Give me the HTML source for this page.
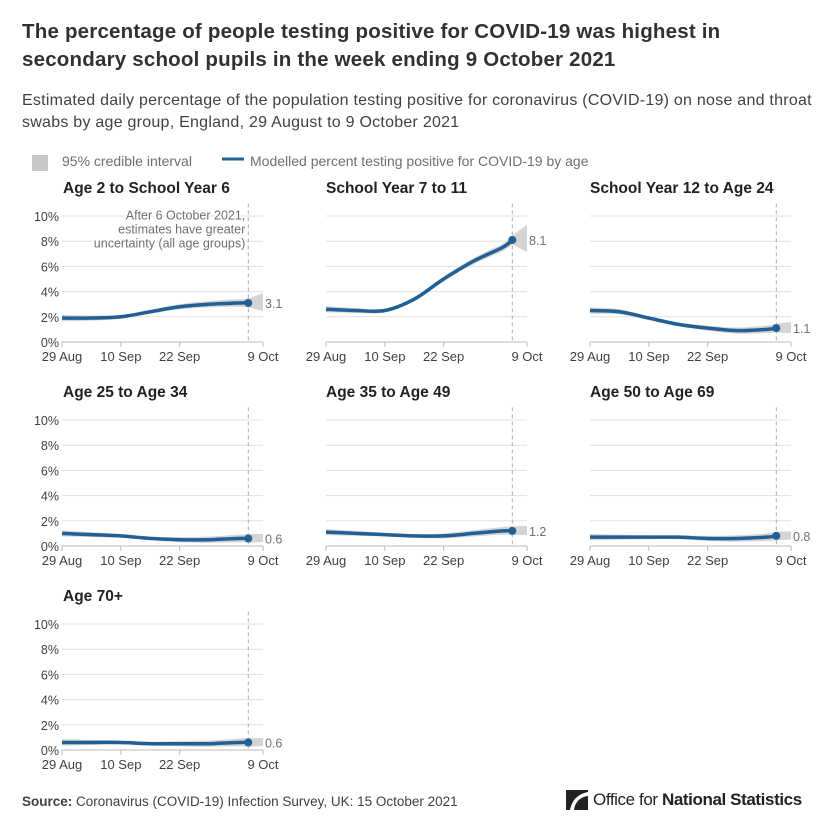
<!DOCTYPE html>
<html><head><meta charset="utf-8"><style>
body{margin:0;background:#fff;width:836px;height:834px;overflow:hidden;font-family:"Liberation Sans",sans-serif;}
#title{position:absolute;left:22px;top:18px;font-size:20.5px;font-weight:bold;color:#323132;line-height:28px;letter-spacing:0.2px}
#sub{position:absolute;left:22px;top:90px;font-size:16px;color:#414042;line-height:22px;letter-spacing:0.25px;white-space:nowrap}
#src{position:absolute;left:22px;top:794px;font-size:13.5px;color:#414042}
#logo{position:absolute;left:566px;top:790px;font-size:17px;color:#222;display:flex;align-items:center;gap:5px;letter-spacing:-0.4px}
svg{position:absolute;left:0;top:0}
</style></head><body>
<div id="title">The percentage of people testing positive for COVID-19 was highest in<br>secondary school pupils in the week ending 9 October 2021</div>
<div id="sub">Estimated daily percentage of the population testing positive for coronavirus (COVID-19) on nose and throat<br>swabs by age group, England, 29 August to 9 October 2021</div>
<div id="src"><b>Source:</b> Coronavirus (COVID-19) Infection Survey, UK: 15 October 2021</div>
<div id="logo"><svg width="22" height="20" style="position:static"><path d="M0 0H22V20H0Z" fill="#222"/><path d="M22 2C12 4 6 10 4 20H8C9 12 14 7 22 6Z" fill="#fff"/></svg><span>Office for <b>National Statistics</b></span></div>
<svg id="chart" width="836" height="834"></svg>
<script>
const days=[0,6,12,18,24,30,36,38];
const titles=["Age 2 to School Year 6","School Year 7 to 11","School Year 12 to Age 24","Age 25 to Age 34","Age 35 to Age 49","Age 50 to Age 69","Age 70+"];
const s1=[1.9,1.9,2.0,2.4,2.8,3.0,3.1,3.1];
const s2=[2.6,2.5,2.5,3.4,5.0,6.4,7.5,8.1];
const s3=[2.5,2.4,1.9,1.4,1.1,0.9,1.0,1.1];
const s4=[1.0,0.9,0.8,0.6,0.5,0.5,0.6,0.6];
const s5=[1.1,1.0,0.9,0.8,0.8,1.0,1.2,1.2];
const s6=[0.7,0.7,0.7,0.7,0.6,0.6,0.7,0.8];
const s7=[0.6,0.6,0.6,0.5,0.5,0.5,0.6,0.6];
const series=[s1,s2,s3,s4,s5,s6,s7];
const endLabels=["3.1","8.1","1.1","0.6","1.2","0.8","0.6"];
const ciHalf=[0.25,0.2,0.15,0.15,0.2,0.25,0.3,0.35];
const ciEnd=[0.8,1.2,0.5,0.35,0.4,0.35,0.35];
const yTicks=[0,2,4,6,8,10];
const xTicks=[[0,"29 Aug"],[12,"10 Sep"],[24,"22 Sep"],[41,"9 Oct"]];
const NS="http://www.w3.org/2000/svg",svg=document.getElementById('chart');
function mk(t,a,p){const e=document.createElementNS(NS,t);for(const k in a)e.setAttribute(k,a[k]);(p||svg).appendChild(e);return e;}
function smooth(pts){let d="M"+pts[0][0]+","+pts[0][1];for(let i=0;i<pts.length-1;i++){const p0=pts[Math.max(0,i-1)],p1=pts[i],p2=pts[i+1],p3=pts[Math.min(pts.length-1,i+2)];d+=" C"+(p1[0]+(p2[0]-p0[0])/6)+","+(p1[1]+(p2[1]-p0[1])/6)+" "+(p2[0]-(p3[0]-p1[0])/6)+","+(p2[1]-(p3[1]-p1[1])/6)+" "+p2[0]+","+p2[1];}return d;}
let lg=mk('g',{});
let r=mk('rect',{x:32,y:155,width:16,height:16,fill:'#c8c8c8'},lg);
let t=mk('text',{x:62,y:166,'font-size':14,fill:'#6d6e71'},lg);t.textContent="95% credible interval";
let l=mk('line',{x1:222,y1:159,x2:244,y2:159,stroke:'#206095','stroke-width':3},lg);
t=mk('text',{x:250,y:166,'font-size':14,fill:'#6d6e71'},lg);t.textContent="Modelled percent testing positive for COVID-19 by age";
const colX=[62,326,590],rowY=[342,546,750],W=201,H=126;
series.forEach((s,i)=>{
 const x0=colX[i%3],y0=rowY[Math.floor(i/3)];
 const X=d=>x0+d*W/41,Y=v=>y0-v*H/10;
 const g=mk('g',{});
 let tt=mk('text',{x:x0+(i%3==0?1:0),y:y0-149,'font-size':15.5,'font-weight':'bold',fill:'#222'},g);tt.textContent=titles[i];
 yTicks.forEach(v=>{if(v>0){let gl=mk('line',{x1:x0,x2:x0+W,y1:Y(v),y2:Y(v),stroke:'#e0e0e0'},g);}
  if(i%3==0){let yl=mk('text',{x:x0-3,y:Y(v)+5,'text-anchor':'end','font-size':12.5,fill:'#414042'},g);yl.textContent=v+"%";}});
 let ax=mk('line',{x1:x0,x2:x0+W,y1:y0,y2:y0,stroke:'#bbb'},g);
 xTicks.forEach(([d,lab])=>{let tk=mk('line',{x1:X(d),x2:X(d),y1:y0,y2:y0+5,stroke:'#bbb'},g);
  let xl=mk('text',{x:X(d),y:y0+19,'text-anchor':'middle','font-size':13,fill:'#414042'},g);xl.textContent=lab;});
 let dl=mk('line',{x1:X(38),x2:X(38),y1:Y(11),y2:y0,stroke:'#aaa','stroke-dasharray':'4,3'},g);
 const up=s.map((v,k)=>[X(days[k]),Y(v+ciHalf[k])]),lo=s.map((v,k)=>[X(days[k]),Y(Math.max(0,v-ciHalf[k]))]);
 let band=mk('path',{d:smooth(up)+" L"+lo[lo.length-1][0]+","+lo[lo.length-1][1]+smooth(lo.slice().reverse()).replace(/^M[^C]*/,' ')+"Z",fill:'#d4d4d4'},g);
 const last=s[s.length-1];
 let tri=mk('path',{d:`M${X(38)},${Y(last+ciHalf[7])} L${X(41)},${Y(last+ciEnd[i])} L${X(41)},${Y(Math.max(0,last-ciEnd[i]*0.8))} L${X(38)},${Y(last-ciHalf[7])}Z`,fill:'#d4d4d4'},g);
 const pts=s.map((v,k)=>[X(days[k]),Y(v)]);
 let ln=mk('path',{d:smooth(pts),fill:'none',stroke:'#206095','stroke-width':3.5},g);
 let dot=mk('circle',{cx:X(38),cy:Y(last),r:4,fill:'#206095'},g);
 let el=mk('text',{x:X(41)+2,y:Y(last)+5,'font-size':12.5,fill:'#6d6e71'},g);el.textContent=endLabels[i];
 if(i==0){["After 6 October 2021,","estimates have greater","uncertainty (all age groups)"].forEach((a,k)=>{
   let at=mk('text',{x:X(38)-3,y:Y(9.8)+k*14+1,'text-anchor':'end','font-size':12.5,fill:'#6d6e71',stroke:'#fff','stroke-width':3,'paint-order':'stroke'},g);at.textContent=a;});}
});
</script>
</body></html>
